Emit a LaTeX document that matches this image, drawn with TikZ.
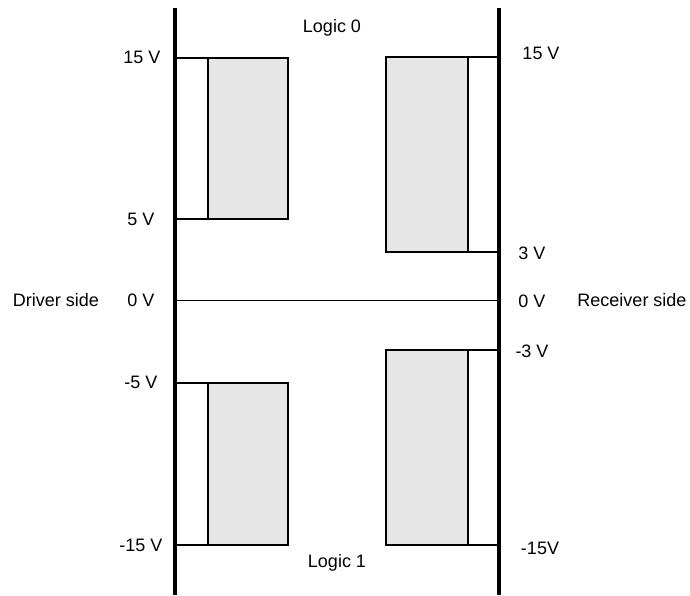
\documentclass[tikz,border=0pt]{standalone}
\usepackage{fontspec}
\setmainfont{Liberation Sans}
\definecolor{bandgray}{HTML}{E6E6E6}
\begin{document}
\begin{tikzpicture}[x=1pt,y=-1pt,
  lbl/.style={font=\fontsize{18}{20}\selectfont, inner sep=0pt, text height=13pt, text depth=0pt, anchor=center},
  rail/.style={line width=4pt},
  edge/.style={line width=2pt},
  zero/.style={line width=1.5pt},
  band/.style={draw, line width=2pt, fill=bandgray}]
\useasboundingbox (0,0) rectangle (690,595);
% rails
\coordinate (LT) at (175,8);  \coordinate (LB) at (175,595);
\coordinate (RT) at (499,8);  \coordinate (RB) at (499,595);
\draw[rail] (LT) -- (LB);
\draw[rail] (RT) -- (RB);
% zero line
\coordinate (Z1) at (175,300.5); \coordinate (Z2) at (499,300.5);
\draw[zero] (Z1) -- (Z2);
% driver bands
\draw[edge] (175,57.5) -- (207.5,57.5);
\draw[edge] (175,219) -- (207.5,219);
\draw[band] (207.5,57.5) rectangle (288,219);
\draw[edge] (175,382.5) -- (207.5,382.5);
\draw[edge] (175,545) -- (207.5,545);
\draw[band] (207.5,382.5) rectangle (288,545);
% receiver bands
\draw[edge] (467.5,57) -- (499,57);
\draw[edge] (467.5,252) -- (499,252);
\draw[band] (386,57) rectangle (467.5,252);
\draw[edge] (467.5,349.5) -- (499,349.5);
\draw[edge] (467.5,545) -- (499,545);
\draw[band] (386,349.5) rectangle (467.5,545);
% labels left
\node[lbl] (l15) at (142,57) {15 V};
\node[lbl] (l5) at (141,219) {5 V};
\node[lbl] (l0) at (141,300) {0 V};
\node[lbl] (lm5) at (141,382) {-5 V};
\node[lbl] (lm15) at (141,545) {-15 V};
% labels right
\node[lbl] (r15) at (541,53) {15 V};
\node[lbl] (r3) at (532,253) {3 V};
\node[lbl] (r0) at (532,301) {0 V};
\node[lbl] (rm3) at (532,351) {-3 V};
\node[lbl] (rm15) at (540,548) {-15V};
% side and logic labels
\node[lbl] (drv) at (56,300) {Driver side};
\node[lbl] (rcv) at (632,300) {Receiver side};
\node[lbl] (log0) at (332,26) {Logic 0};
\node[lbl] (log1) at (337,561) {Logic 1};
\end{tikzpicture}
\end{document}
